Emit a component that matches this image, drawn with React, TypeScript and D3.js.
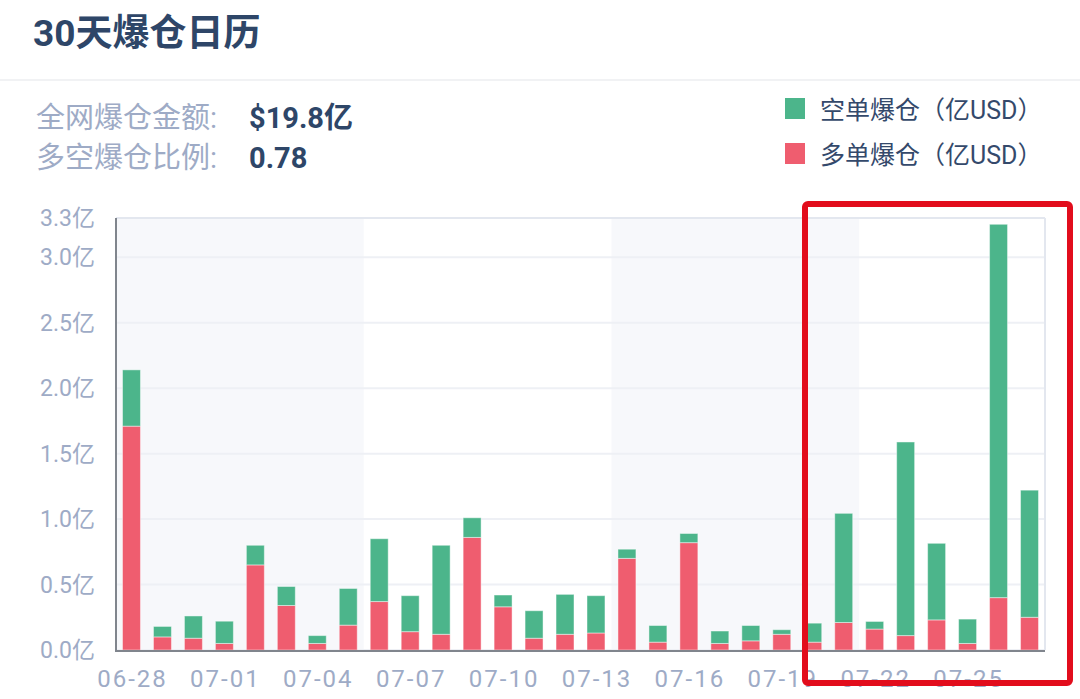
import React, { useEffect, useRef } from "react"
import * as d3 from "d3"

const dates = [
  "06-28", "06-29", "06-30", "07-01", "07-02", "07-03", "07-04", "07-05",
  "07-06", "07-07", "07-08", "07-09", "07-10", "07-11", "07-12", "07-13",
  "07-14", "07-15", "07-16", "07-17", "07-18", "07-19", "07-20", "07-21",
  "07-22", "07-23", "07-24", "07-25", "07-26", "07-27",
]

// 多单爆仓（亿USD）
const longValues = [
  1.71, 0.1, 0.09, 0.05, 0.65, 0.34, 0.05, 0.19, 0.37, 0.14, 0.12, 0.86, 0.33,
  0.09, 0.12, 0.13, 0.7, 0.06, 0.82, 0.05, 0.07, 0.12, 0.06, 0.21, 0.16, 0.11,
  0.23, 0.05, 0.4, 0.25,
]

// 空单爆仓（亿USD）
const shortValues = [
  0.43, 0.08, 0.17, 0.17, 0.15, 0.145, 0.06, 0.28, 0.48, 0.275, 0.68, 0.15,
  0.09, 0.21, 0.305, 0.285, 0.07, 0.127, 0.07, 0.095, 0.117, 0.035, 0.145,
  0.834, 0.058, 1.479, 0.585, 0.186, 2.852, 0.971,
]

const yTicks = [0, 0.5, 1.0, 1.5, 2.0, 2.5, 3.0, 3.3]

const legendItems = [
  { label: "空单爆仓（亿USD）", color: "#4cb58b" },
  { label: "多单爆仓（亿USD）", color: "#ef5d6f" },
]

const FONT = "Roboto, 'Noto Sans CJK SC', sans-serif"

const App: React.FC = () => {
  const svgRef = useRef<SVGSVGElement>(null)

  useEffect(() => {
    document.body.style.margin = "0"
    if (!svgRef.current) return
    const svg = d3.select(svgRef.current)
    svg.selectAll("*").remove()

    const left = 116
    const right = 1045
    const top = 218
    const bottom = 650

    // header
    svg.append("text")
      .attr("x", 33).attr("y", 46)
      .attr("font-size", 37).attr("font-weight", "bold")
      .attr("fill", "#2e4668")
      .attr("font-family", FONT)
      .text("30天爆仓日历")

    svg.append("rect")
      .attr("x", 0).attr("y", 79).attr("width", 1080).attr("height", 2)
      .attr("fill", "#f1f2f4")

    const stats = [
      { label: "全网爆仓金额:", value: "$19.8亿", y: 128 },
      { label: "多空爆仓比例:", value: "0.78", y: 168 },
    ]
    stats.forEach((s) => {
      svg.append("text")
        .attr("x", 36).attr("y", s.y)
        .attr("font-size", 29).attr("fill", "#9eabc6")
        .attr("font-family", FONT)
        .text(s.label)
      svg.append("text")
        .attr("x", 249).attr("y", s.y)
        .attr("font-size", 29).attr("font-weight", "bold")
        .attr("fill", "#2e4668")
        .attr("font-family", FONT)
        .text(s.value)
    })

    legendItems.forEach((d, i) => {
      svg.append("rect")
        .attr("x", 785).attr("y", 98 + i * 45)
        .attr("width", 20).attr("height", 21)
        .attr("fill", d.color)
      svg.append("text")
        .attr("x", 820).attr("y", 119 + i * 45)
        .attr("font-size", 25).attr("fill", "#34496b")
        .attr("font-family", FONT)
        .text(d.label)
    })

    const x = d3.scaleBand<string>()
      .domain(dates)
      .range([left, right])
      .paddingInner(0.42)
      .paddingOuter(0.21)

    const y = d3.scaleLinear().domain([0, 3.3]).range([bottom, top])

    const step = x.step()

    // alternating shaded bands of 8 days
    for (let k = 0; k * 8 < dates.length; k += 2) {
      const x0 = left + k * 8 * step
      const x1 = Math.min(right, x0 + 8 * step)
      svg.append("rect")
        .attr("x", x0).attr("y", top)
        .attr("width", x1 - x0).attr("height", bottom - top)
        .attr("fill", "#f7f8fb")
    }

    // grid
    svg.selectAll(".grid")
      .data(yTicks)
      .enter()
      .append("line")
      .attr("x1", left).attr("x2", right)
      .attr("y1", (d) => y(d)).attr("y2", (d) => y(d))
      .attr("stroke", (d) => (d === 3.3 ? "#e3e7ef" : "#eef0f5"))
      .attr("stroke-width", 2)

    svg.append("line")
      .attr("x1", right).attr("x2", right)
      .attr("y1", top).attr("y2", bottom)
      .attr("stroke", "#e3e7ef").attr("stroke-width", 2)

    // y labels
    svg.selectAll(".ylab")
      .data(yTicks)
      .enter()
      .append("text")
      .attr("x", 95)
      .attr("y", (d) => y(d) + 8)
      .attr("text-anchor", "end")
      .attr("font-size", 23)
      .attr("fill", "#9eabc6")
      .attr("font-family", FONT)
      .text((d) => d.toFixed(1) + "亿")

    // stacked bars
    const rows = dates.map((date, i) => ({ date, long: longValues[i], short: shortValues[i] }))
    const stack = d3.stack<{ date: string; long: number; short: number }>().keys(["long", "short"])
    const series = stack(rows)
    const colors = ["#ef5d6f", "#4cb58b"]

    series.forEach((s, si) => {
      svg.append("g")
        .selectAll("rect")
        .data(s)
        .enter()
        .append("rect")
        .attr("x", (d) => x(d.data.date)!)
        .attr("y", (d) => y(d[1]))
        .attr("width", x.bandwidth())
        .attr("height", (d) => y(d[0]) - y(d[1]))
        .attr("fill", colors[si])
        .attr("stroke", "rgba(255,255,255,0.45)")
        .attr("stroke-width", 1)
    })

    // axes lines
    svg.append("line")
      .attr("x1", left).attr("x2", left)
      .attr("y1", top).attr("y2", bottom + 1)
      .attr("stroke", "#80858d").attr("stroke-width", 2)
    svg.append("line")
      .attr("x1", left - 1).attr("x2", right)
      .attr("y1", bottom + 1).attr("y2", bottom + 1)
      .attr("stroke", "#80858d").attr("stroke-width", 2)

    // x labels
    svg.selectAll(".xlab")
      .data(dates.filter((_, i) => i % 3 === 0))
      .enter()
      .append("text")
      .attr("x", (d) => x(d)! + x.bandwidth() / 2 + 1)
      .attr("y", 687)
      .attr("text-anchor", "middle")
      .attr("font-size", 24)
      .attr("letter-spacing", 2)
      .attr("fill", "#9eabc6")
      .attr("font-family", FONT)
      .text((d) => d)

    // highlight box
    svg.append("rect")
      .attr("x", 805).attr("y", 204)
      .attr("width", 265).attr("height", 479)
      .attr("rx", 3)
      .attr("fill", "none")
      .attr("stroke", "#e20d1c")
      .attr("stroke-width", 6)
  }, [])

  return (
    <div style={{ width: 1080, height: 699, background: "#fff" }}>
      <svg ref={svgRef} width={1080} height={699} style={{ display: "block" }} />
    </div>
  )
}

export default App
